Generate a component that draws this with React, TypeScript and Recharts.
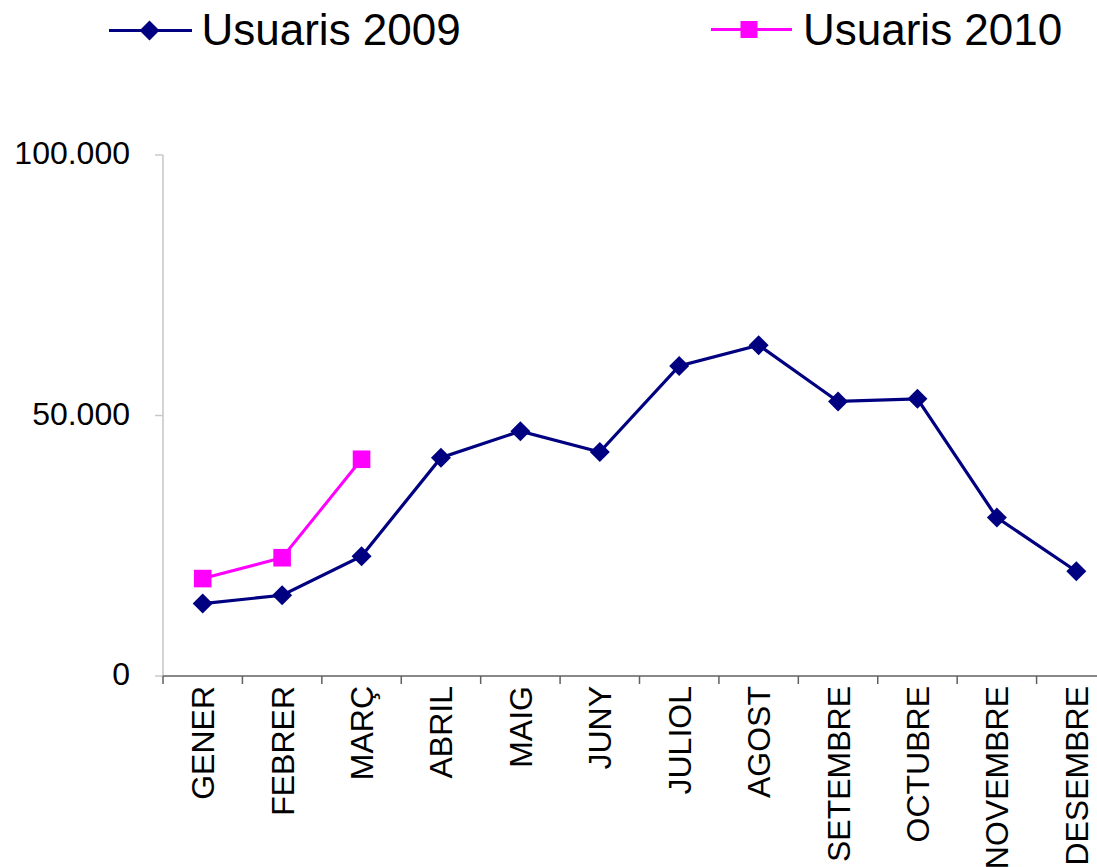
import React from 'react';
import { LineChart, Line, XAxis, YAxis } from 'recharts';

const months = ['GENER', 'FEBRER', 'MARÇ', 'ABRIL', 'MAIG', 'JUNY', 'JULIOL', 'AGOST', 'SETEMBRE', 'OCTUBRE', 'NOVEMBRE', 'DESEMBRE'];
const users2009 = [13900, 15500, 23000, 41900, 47000, 43000, 59500, 63500, 52700, 53200, 30400, 20100];
const users2010: (number | null)[] = [18700, 22700, 41600, null, null, null, null, null, null, null, null, null];
const yTicks = [0, 50000, 100000];
const seriesNames = ['Usuaris 2009', 'Usuaris 2010'];

const data = months.map((m, i) => ({ month: m, u2009: users2009[i], u2010: users2010[i] }));

const FONT = '"Liberation Sans", Arial, Helvetica, sans-serif';
const NAVY = '#000080';
const MAGENTA = '#FF00FF';

const CHART_W = 1130;
const CHART_H = 867;
const MARGIN = { top: 155, right: 14, left: 0, bottom: 0 };
const Y_W = 163;
const X_H = 191;
const BAND = (CHART_W - MARGIN.right - Y_W) / months.length;

const fmt = (v: number) => (v === 0 ? '0' : v.toLocaleString('de-DE'));

const Diamond = (props: any) => {
  const { cx, cy, value, index } = props;
  if (cx == null || cy == null || value == null) return <g key={`d${index}`} />;
  const r = 10;
  return (
    <path key={`d${index}`} d={`M${cx},${cy - r}L${cx + r},${cy}L${cx},${cy + r}L${cx - r},${cy}Z`} fill={NAVY} />
  );
};

const Square = (props: any) => {
  const { cx, cy, value, index } = props;
  if (cx == null || cy == null || value == null) return <g key={`s${index}`} />;
  const h = 8.8;
  return <rect key={`s${index}`} x={cx - h} y={cy - h} width={2 * h} height={2 * h} fill={MAGENTA} />;
};

const XTick = (props: any) => {
  const { x, y, payload } = props;
  const half = BAND / 2;
  const idx = payload?.index ?? 0;
  return (
    <g>
      <line x1={x - half} y1={y} x2={x - half} y2={y + 8} stroke="#606060" strokeWidth={1.5} />
      {idx === months.length - 1 && (
        <line x1={x + half} y1={y} x2={x + half} y2={y + 8} stroke="#606060" strokeWidth={1.5} />
      )}
      <text
        x={0}
        y={0}
        transform={`translate(${x},${y + 10}) rotate(-90)`}
        textAnchor="end"
        dy="0.358em"
        fontSize={32}
        fontFamily={FONT}
        fill="#000"
      >
        {payload.value}
      </text>
    </g>
  );
};

const YTick = (props: any) => {
  const { x, y, payload } = props;
  return (
    <text x={x} y={y} dy={9} textAnchor="end" fontSize={32} fontFamily={FONT} fill="#000">
      {fmt(payload.value)}
    </text>
  );
};

const LegendOverlay = () => (
  <svg
    width={1097}
    height={70}
    style={{ position: 'absolute', left: 0, top: 0, pointerEvents: 'none' }}
  >
    <line x1={109} y1={30.5} x2={192} y2={30.5} stroke={NAVY} strokeWidth={3} />
    <path d="M149.5,20.5L159.5,30.5L149.5,40.5L139.5,30.5Z" fill={NAVY} />
    <text x={201.5} y={44.5} fontSize={44} fontFamily={FONT} fill="#000">
      {seriesNames[0]}
    </text>
    <line x1={711} y1={29.5} x2={792} y2={29.5} stroke={MAGENTA} strokeWidth={3} />
    <rect x={740.5} y={21} width={17} height={17} fill={MAGENTA} />
    <text x={803} y={44.5} fontSize={44} fontFamily={FONT} fill="#000">
      {seriesNames[1]}
    </text>
  </svg>
);

export default function App() {
  return (
    <div
      style={{
        position: 'fixed',
        left: 0,
        top: 0,
        width: 1097,
        height: 867,
        overflow: 'hidden',
        background: '#fff',
      }}
    >
      <LineChart width={CHART_W} height={CHART_H} data={data} margin={MARGIN}>
        <YAxis
          type="number"
          domain={[0, 100000]}
          ticks={yTicks}
          width={Y_W}
          tickSize={8}
          tickMargin={25}
          axisLine={{ stroke: '#d4d4d4', strokeWidth: 2 }}
          tickLine={{ stroke: '#c8c8c8', strokeWidth: 1.5 }}
          tick={<YTick />}
          interval={0}
        />
        <XAxis
          dataKey="month"
          type="category"
          height={X_H}
          interval={0}
          padding={{ left: BAND / 2, right: BAND / 2 }}
          tickSize={0}
          tickMargin={0}
          tickLine={false}
          axisLine={{ stroke: '#606060', strokeWidth: 1.5 }}
          tick={<XTick />}
        />
        <Line
          type="linear"
          dataKey="u2009"
          name={seriesNames[0]}
          stroke={NAVY}
          strokeWidth={3.2}
          dot={Diamond}
          activeDot={false}
          isAnimationActive={false}
        />
        <Line
          type="linear"
          dataKey="u2010"
          name={seriesNames[1]}
          stroke={MAGENTA}
          strokeWidth={3}
          dot={Square}
          activeDot={false}
          connectNulls={false}
          isAnimationActive={false}
        />
      </LineChart>
      <LegendOverlay />
    </div>
  );
}
